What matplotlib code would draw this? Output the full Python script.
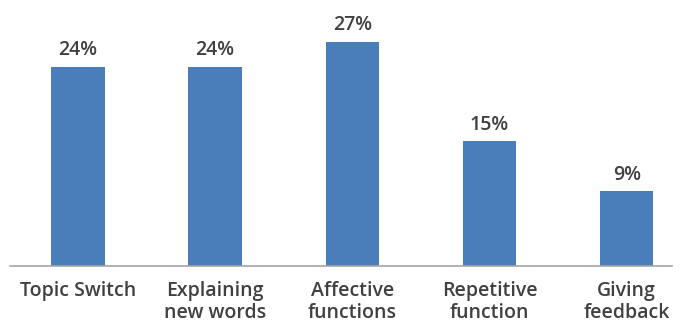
import matplotlib.pyplot as plt

plt.rcParams['font.family'] = ['Open Sans', 'DejaVu Sans']

categories = ['Topic Switch', 'Explaining\nnew words', 'Affective\nfunctions',
              'Repetitive\nfunction', 'Giving\nfeedback']
values = [24, 24, 27, 15, 9]
labels = ['24%', '24%', '27%', '15%', '9%']

fig = plt.figure(figsize=(6.82, 3.22), dpi=100)
ax = fig.add_axes([10 / 682, 56 / 322, 662 / 682, 266 / 322])

x = range(len(values))
bars = ax.bar(x, values, width=0.39, color='#4A7EBB', zorder=2)

for b, lab in zip(bars, labels):
    ax.text(b.get_x() + b.get_width() / 2, b.get_height() + 0.8, lab,
            ha='center', va='bottom', fontsize=14, color='#404040',
            fontweight='semibold')

ax.set_xlim(-0.495, 4.33)
ax.set_ylim(0, 32)
ax.set_xticks(list(x))
ax.set_xticklabels(categories, fontsize=14, color='#404040', linespacing=1.12,
                   fontweight='semibold')
ax.tick_params(axis='x', length=0, pad=11)
ax.set_yticks([])
for s in ['top', 'right', 'left']:
    ax.spines[s].set_visible(False)
ax.spines['bottom'].set_color('#A6A6A6')
ax.spines['bottom'].set_linewidth(1.2)

fig.savefig('out.png', dpi=100)
